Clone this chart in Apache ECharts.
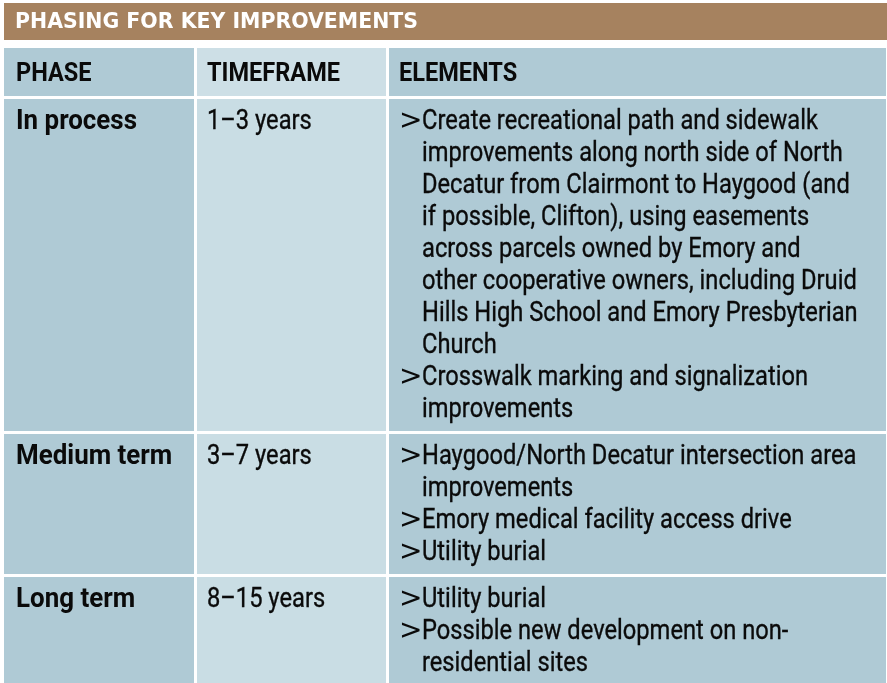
<!DOCTYPE html>
<html><head><meta charset="utf-8">
<script src="https://cdn.jsdelivr.net/npm/echarts@6/dist/echarts.min.js"></script>
<style>html,body{margin:0;padding:0;background:#fff}#c{width:887px;height:683px}</style>
</head><body><div id="c"></div>
<script>
// ---- data ----
const title = 'PHASING FOR KEY IMPROVEMENTS';
const headers = ['PHASE', 'TIMEFRAME', 'ELEMENTS'];
const phases = ['In process', 'Medium term', 'Long term'];
const timeframes = ['1–3 years', '3–7 years', '8–15 years'];
const elements = [
  [
    ['Create recreational path and sidewalk',
     'improvements along north side of North',
     'Decatur from Clairmont to Haygood (and',
     'if possible, Clifton), using easements',
     'across parcels owned by Emory and',
     'other cooperative owners, including Druid',
     'Hills High School and Emory Presbyterian',
     'Church'],
    ['Crosswalk marking and signalization',
     'improvements']
  ],
  [
    ['Haygood/North Decatur intersection area',
     'improvements'],
    ['Emory medical facility access drive'],
    ['Utility burial']
  ],
  [
    ['Utility burial'],
    ['Possible new development on non-',
     'residential sites']
  ]
];

// ---- layout / style ----
const W = 887, H = 683;
const BROWN = '#a6825f', DARK = '#afcad5', LIGHT = '#c9dde4', LIGHTH = '#cddfe6', INK = '#0a0a0a';
const FAM = 'Roboto, "Liberation Sans", sans-serif';
const bodyFont = '28px ' + FAM;
const boldFont = 'bold 27px ' + FAM;
const headFont = 'bold 26px ' + FAM;
const titleFont = 'bold 21px "DejaVu Sans", sans-serif';
const arrowFont = '28px "DejaVu Sans", sans-serif';
const cols = [[4, 194], [197, 386], [389, 886]];
const textX = [16, 207, 422];
const arrowX = 399;
const PITCH = 32, TOPPAD = 29, BOTPAD = 15, GAP = 3;
const MID = 6; // baseline -> middle offset

const mctx = document.createElement('canvas').getContext('2d');
function fitScale(text, font, target) {
  mctx.font = font;
  return target / mctx.measureText(text).width;
}
const bodyScale = fitScale('Create recreational path and sidewalk', bodyFont, 396);
const boldScale = fitScale('In process', boldFont, 121);
const headScale = fitScale('TIMEFRAME', headFont, 133);
const titleScale = fitScale(title, titleFont, 403);

const cells = [];
// title bar
cells.push({x0: 4, x1: 887, y0: 3, y1: 40, fill: BROWN,
  texts: [{x: 15, y: 23, text: title, font: titleFont, fill: '#ffffff', scaleX: titleScale}]});
// header row
headers.forEach((h, i) => {
  cells.push({x0: cols[i][0], x1: cols[i][1], y0: 48, y1: 96, fill: i === 1 ? LIGHTH : DARK,
    texts: [{x: (i === 2 ? 399 : textX[i]), y: 74, text: h, font: headFont, fill: INK, scaleX: headScale}]});
});
// body rows
let rowTop = 99;
phases.forEach((ph, r) => {
  const items = elements[r];
  const nLines = items.reduce((s, it) => s + it.length, 0);
  const bottom = rowTop + TOPPAD + (nLines - 1) * PITCH + BOTPAD;
  const base0 = rowTop + TOPPAD;
  cells.push({x0: cols[0][0], x1: cols[0][1], y0: rowTop, y1: bottom, fill: DARK,
    texts: [{x: textX[0], y: base0 - MID, text: ph, font: boldFont, fill: INK, scaleX: boldScale}]});
  cells.push({x0: cols[1][0], x1: cols[1][1], y0: rowTop, y1: bottom, fill: LIGHT,
    texts: [{x: textX[1], y: base0 - MID, text: timeframes[r], font: bodyFont, fill: INK, scaleX: bodyScale, stroke: true}]});
  const t = [];
  let li = 0;
  items.forEach(it => {
    t.push({x: arrowX, y: base0 + li * PITCH - MID, text: '>', font: arrowFont, fill: INK});
    it.forEach(line => {
      t.push({x: textX[2], y: base0 + li * PITCH - MID, text: line, font: bodyFont, fill: INK, scaleX: bodyScale, stroke: true});
      li++;
    });
  });
  cells.push({x0: cols[2][0], x1: cols[2][1], y0: rowTop, y1: bottom, fill: DARK, texts: t});
  rowTop = bottom + GAP;
});

function renderItem(params, api) {
  const c = cells[api.value(0)];
  const p0 = api.coord([c.x0, c.y0]);
  const p1 = api.coord([c.x1, c.y1]);
  const children = [{type: 'rect', silent: true,
    shape: {x: p0[0], y: p0[1], width: p1[0] - p0[0], height: p1[1] - p0[1]},
    style: {fill: c.fill}}];
  c.texts.forEach(t => {
    const p = api.coord([t.x, t.y]);
    const style = {text: t.text, font: t.font, fill: t.fill, align: 'left', verticalAlign: 'middle'};
    if (t.stroke) { style.stroke = t.fill; style.lineWidth = 0.35; }
    children.push({type: 'text', silent: true, x: p[0], y: p[1], scaleX: t.scaleX || 1, style});
  });
  return {type: 'group', children};
}

const chart = echarts.init(document.getElementById('c'), null, {renderer: 'canvas'});
chart.setOption({
  backgroundColor: '#ffffff',
  animation: false,
  grid: {left: 0, right: 0, top: 0, bottom: 0},
  xAxis: {type: 'value', min: 0, max: W, show: false},
  yAxis: {type: 'value', min: 0, max: H, inverse: true, show: false},
  series: [{type: 'custom', renderItem, clip: false,
    data: cells.map((c, i) => [i])}]
});
</script></body></html>
